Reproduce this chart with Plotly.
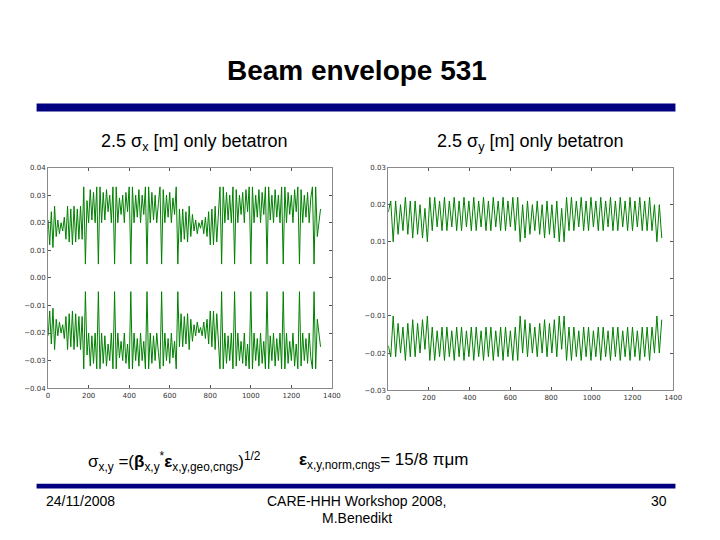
import plotly.graph_objects as go
import numpy as np

# ---------------- data ----------------
# horizontal envelope 2.5*sigma_x [m], sampled every 8 m of path length
sx_pos = np.arange(0, 1345, 8)
sigma_x = [
    0.021, 0.012, 0.024, 0.011, 0.026, 0.015, 0.021, 0.016, 0.020, 0.017,
    0.022, 0.014, 0.026, 0.013, 0.025, 0.012, 0.026, 0.013, 0.025, 0.014,
    0.026, 0.014, 0.033, 0.005, 0.028, 0.020, 0.032, 0.021, 0.031, 0.020,
    0.033, 0.005, 0.033, 0.020, 0.031, 0.021, 0.032, 0.024, 0.030, 0.020,
    0.033, 0.005, 0.033, 0.020, 0.029, 0.023, 0.030, 0.020, 0.031, 0.024,
    0.033, 0.005, 0.033, 0.020, 0.030, 0.022, 0.032, 0.020, 0.030, 0.023,
    0.033, 0.005, 0.033, 0.020, 0.031, 0.021, 0.030, 0.020, 0.027, 0.033,
    0.005, 0.032, 0.020, 0.030, 0.022, 0.031, 0.020, 0.029, 0.023, 0.033,
    0.005, 0.025, 0.013, 0.025, 0.014, 0.024, 0.013, 0.026, 0.015, 0.023,
    0.017, 0.021, 0.016, 0.020, 0.018, 0.021, 0.016, 0.022, 0.015, 0.024,
    0.012, 0.025, 0.012, 0.026, 0.013, 0.025, 0.033, 0.005, 0.033, 0.020,
    0.031, 0.021, 0.030, 0.020, 0.033, 0.005, 0.032, 0.020, 0.030, 0.023,
    0.031, 0.020, 0.032, 0.024, 0.033, 0.005, 0.033, 0.020, 0.030, 0.022,
    0.032, 0.020, 0.031, 0.023, 0.033, 0.005, 0.033, 0.021, 0.030, 0.020,
    0.032, 0.022, 0.030, 0.020, 0.033, 0.005, 0.033, 0.020, 0.031, 0.023,
    0.030, 0.020, 0.032, 0.024, 0.033, 0.005, 0.032, 0.020, 0.030, 0.022,
    0.031, 0.020, 0.029, 0.033, 0.005, 0.033, 0.015, 0.020, 0.025,
]

# vertical envelope 2.5*sigma_y [m], sampled every 12 m of path length
sy_pos = np.arange(0, 1345, 12)
sigma_y = [
    0.018, 0.021, 0.010, 0.021, 0.012, 0.020, 0.013, 0.022, 0.012, 0.021,
    0.011, 0.021, 0.012, 0.020, 0.011, 0.019, 0.010, 0.022, 0.013, 0.022,
    0.014, 0.021, 0.013, 0.022, 0.013, 0.021, 0.014, 0.022, 0.013, 0.021,
    0.013, 0.022, 0.014, 0.021, 0.013, 0.022, 0.013, 0.021, 0.014, 0.022,
    0.013, 0.021, 0.013, 0.022, 0.014, 0.021, 0.013, 0.022, 0.013, 0.021,
    0.014, 0.022, 0.013, 0.022, 0.010, 0.020, 0.011, 0.021, 0.012, 0.020,
    0.013, 0.021, 0.012, 0.020, 0.011, 0.021, 0.012, 0.020, 0.011, 0.021,
    0.010, 0.019, 0.010, 0.022, 0.013, 0.022, 0.013, 0.021, 0.014, 0.022,
    0.013, 0.021, 0.013, 0.022, 0.014, 0.021, 0.013, 0.022, 0.013, 0.021,
    0.014, 0.022, 0.013, 0.021, 0.013, 0.022, 0.014, 0.021, 0.013, 0.022,
    0.013, 0.021, 0.014, 0.022, 0.013, 0.021, 0.013, 0.022, 0.013, 0.020,
    0.010, 0.020, 0.011,
]

x_ticks = [0, 200, 400, 600, 800, 1000, 1200, 1400]
x_tick_text = ["0", "200", "400", "600", "800", "1000", "1200", "1400"]
yx_ticks = [0.04, 0.03, 0.02, 0.01, 0.0, -0.01, -0.02, -0.03, -0.04]
yx_tick_text = ["0.04", "0.03", "0.02", "0.01", "0.00", "\u22120.01", "\u22120.02", "\u22120.03", "\u22120.04"]
yy_ticks = [0.03, 0.02, 0.01, 0.0, -0.01, -0.02, -0.03]
yy_tick_text = ["0.03", "0.02", "0.01", "0.00", "\u22120.01", "\u22120.02", "\u22120.03"]

# ---------------- figure ----------------
# the page body has an 8 px margin, so the figure is 704x524 and offset by 8 px
OFF = 8
W, H = 704, 524
def px(x):
    return (x - OFF) / W
def py(y):
    return 1 - (y - OFF) / H

GREEN = "#008000"
NAVY = "#000080"
FONT = "Liberation Sans, Arial, sans-serif"

fig = go.Figure()
fig.add_trace(go.Scatter(x=sx_pos, y=sigma_x, mode="lines",
                         line=dict(color=GREEN, width=1), xaxis="x", yaxis="y", hoverinfo="skip"))
fig.add_trace(go.Scatter(x=sx_pos, y=[-v for v in sigma_x], mode="lines",
                         line=dict(color=GREEN, width=1), xaxis="x", yaxis="y", hoverinfo="skip"))
fig.add_trace(go.Scatter(x=sy_pos, y=sigma_y, mode="lines",
                         line=dict(color=GREEN, width=1), xaxis="x2", yaxis="y2", hoverinfo="skip"))
fig.add_trace(go.Scatter(x=sy_pos, y=[-v for v in sigma_y], mode="lines",
                         line=dict(color=GREEN, width=1), xaxis="x2", yaxis="y2", hoverinfo="skip"))

tickfont = dict(family="DejaVu Sans, sans-serif", size=7, color="#333333")
axis_common = dict(showgrid=False, zeroline=False, showline=True, linecolor="#8a8a8a", linewidth=1,
                   mirror="allticks", ticks="inside", ticklen=3, tickcolor="#555555",
                   tickfont=tickfont)

fig.update_layout(
    width=W, height=H,
    margin=dict(l=0, r=0, t=0, b=0),
    paper_bgcolor="white", plot_bgcolor="white",
    showlegend=False,
    xaxis=dict(domain=[px(46.7), px(335)], range=[0, 1400], tickvals=x_ticks, ticktext=x_tick_text,
               anchor="y", **axis_common),
    yaxis=dict(domain=[py(390), py(166)], range=[-0.04, 0.04], tickvals=yx_ticks, ticktext=yx_tick_text,
               anchor="x", **axis_common),
    xaxis2=dict(domain=[px(392.3), px(681.7)], range=[0, 1400], tickvals=x_ticks, ticktext=x_tick_text,
                anchor="y2", **axis_common),
    yaxis2=dict(domain=[py(392), py(166)], range=[-0.03, 0.03], tickvals=yy_ticks, ticktext=yy_tick_text,
                anchor="x2", **axis_common),
)

# blue rules
fig.add_shape(type="rect", xref="paper", yref="paper", x0=px(35), x1=px(684), y0=py(109), y1=py(101),
              fillcolor=NAVY, line=dict(width=0))
fig.add_shape(type="rect", xref="paper", yref="paper", x0=px(35), x1=px(684), y0=py(492), y1=py(487),
              fillcolor=NAVY, line=dict(width=0))

def text(x, y, s, size, xanchor="center", bold=False, family=FONT):
    if bold:
        s = "<b>" + s + "</b>"
    fig.add_annotation(x=px(x), y=py(y), xref="paper", yref="paper", text=s, showarrow=False,
                       xanchor=xanchor, yanchor="middle", font=dict(family=family, size=size, color="black"))

text(360, 67, "Beam envelope 531", 28, bold=True)
text(195, 141, "2.5 \u03c3<sub>x</sub> [m] only betatron", 18)
text(537, 141, "2.5 \u03c3<sub>y</sub> [m] only betatron", 18)
text(85, 464, "\u03c3<sub>x,y</sub> =(<b>\u03b2</b><sub>x,y</sub><sup>*</sup><b>\u03b5</b><sub>x,y,geo,cngs</sub>)<sup>1/2</sup>",
     17, xanchor="left")
text(300, 464, "<b>\u03b5</b><sub>x,y,norm,cngs</sub>= 15/8 \u03c0\u03bcm", 17, xanchor="left")
text(43, 505, "24/11/2008", 14, xanchor="left")
text(360, 505, "CARE-HHH Workshop 2008,", 14)
text(360, 522, "M.Benedikt", 14)
text(677, 505, "30", 14, xanchor="right")

fig.write_html("out.html")
